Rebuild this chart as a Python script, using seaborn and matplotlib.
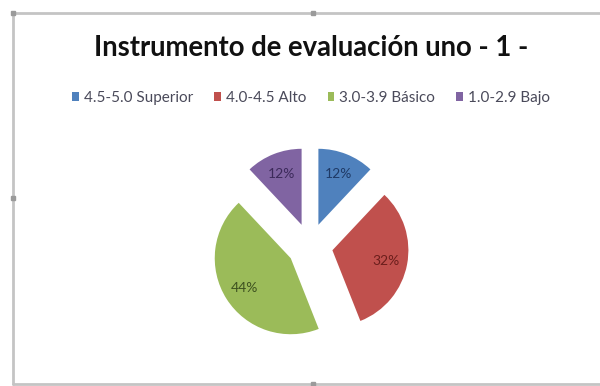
import matplotlib
matplotlib.use("Agg")
import matplotlib.pyplot as plt
import seaborn as sns
from matplotlib.patches import Patch
from matplotlib.lines import Line2D

categorias = ["4.5-5.0 Superior", "4.0-4.5 Alto", "3.0-3.9 Básico", "1.0-2.9 Bajo"]
porcentajes = [12, 32, 44, 12]
colores = ["#4F81BD", "#C0504D", "#9BBB59", "#8064A2"]
colores_texto = ["#1F3A66", "#6B1E1C", "#3E5220", "#3C2A5A"]

sns.set_style("white")
plt.rcParams['font.family'] = ['Lato', 'DejaVu Sans']

fig = plt.figure(figsize=(6, 3.86), dpi=100)

# marco del gráfico (estilo Excel)
gris = "#c4c4c4"
fig.add_artist(Line2D([13/600, 13/600], [1 - 384/386, 1 - 13/386], color=gris, lw=2))
fig.add_artist(Line2D([13/600, 1.0], [1 - 13/386, 1 - 13/386], color=gris, lw=2))
fig.add_artist(Line2D([13/600, 1.0], [1 - 384/386, 1 - 384/386], color=gris, lw=2))
for px, py in [(13, 13), (313, 13), (13, 198), (313, 384)]:
    fig.add_artist(Line2D([px/600], [1 - py/386], marker="s", ms=3.5, color="#9a9a9a", lw=0))

# pastel: centro (310, 246) px, radio 76 px
ax = fig.add_axes([160/600, (386 - 346)/386, 300/600, 200/386])
cuñas, textos, pct = ax.pie(porcentajes, colors=colores, startangle=90, counterclock=False,
                            explode=[0.3] * 4, autopct="%1.0f%%", pctdistance=0.72,
                            wedgeprops=dict(linewidth=0), textprops=dict(fontsize=10))
for t, c in zip(pct, colores_texto):
    t.set_color(c)
ax.set_xlim(-150/76, 150/76)
ax.set_ylim(-100/76, 100/76)
ax.set_aspect("auto")
ax.axis("off")

fig.text(311/600, 1 - 48/386, "Instrumento de evaluación uno - 1 -", ha="center", va="center",
         fontsize=19.8, fontweight="bold", color="#111111")

manijas = [Patch(facecolor=c, edgecolor="none") for c in colores]
fig.legend(manijas, categorias, loc="center", bbox_to_anchor=(311/600, 1 - 98/386), ncol=4,
           frameon=False, fontsize=11, handlelength=0.45, handleheight=0.45, handletextpad=0.3,
           columnspacing=1.4, labelcolor="#4a4a5a")

fig.savefig("out.png", dpi=100, facecolor="white")
